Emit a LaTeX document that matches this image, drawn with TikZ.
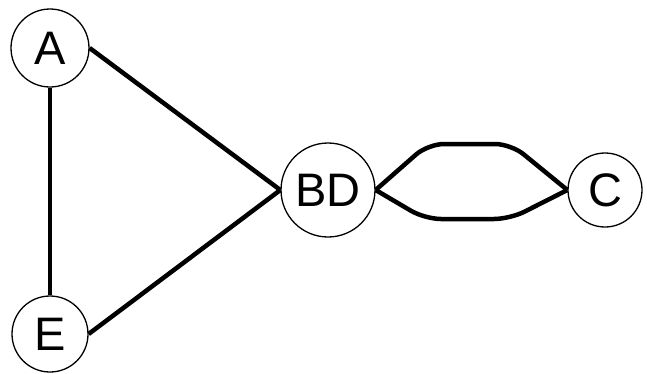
\documentclass[tikz,border=0pt]{standalone}
\usepackage{fontspec}
\setmainfont{Liberation Sans}
\begin{document}
\begin{tikzpicture}[x=1pt,y=-1pt,
  vertex/.style={circle,draw,line width=1.3pt,inner sep=0pt,font=\fontsize{47}{47}\selectfont},
  edge/.style={line width=4.5pt}]
\useasboundingbox (0,0) rectangle (647,373);
\node[vertex,minimum size=78pt] (A) at (50,48) {A};
\node[vertex,minimum size=76pt] (E) at (50,334) {E};
\node[vertex,minimum size=94pt] (BD) at (328,190) {BD};
\node[vertex,minimum size=74pt] (C) at (605,190) {C};
\draw[edge] (A.south) -- (E.north);
\draw[edge] (A.east) -- (BD.west);
\draw[edge] (E.east) -- (BD.west);
\draw[edge,rounded corners=16pt] (BD.east) -- (428,144) -- (511,144) -- (C.west);
\draw[edge,rounded corners=16pt] (BD.east) -- (425,219) -- (510,219) -- (C.west);
\end{tikzpicture}
\end{document}
